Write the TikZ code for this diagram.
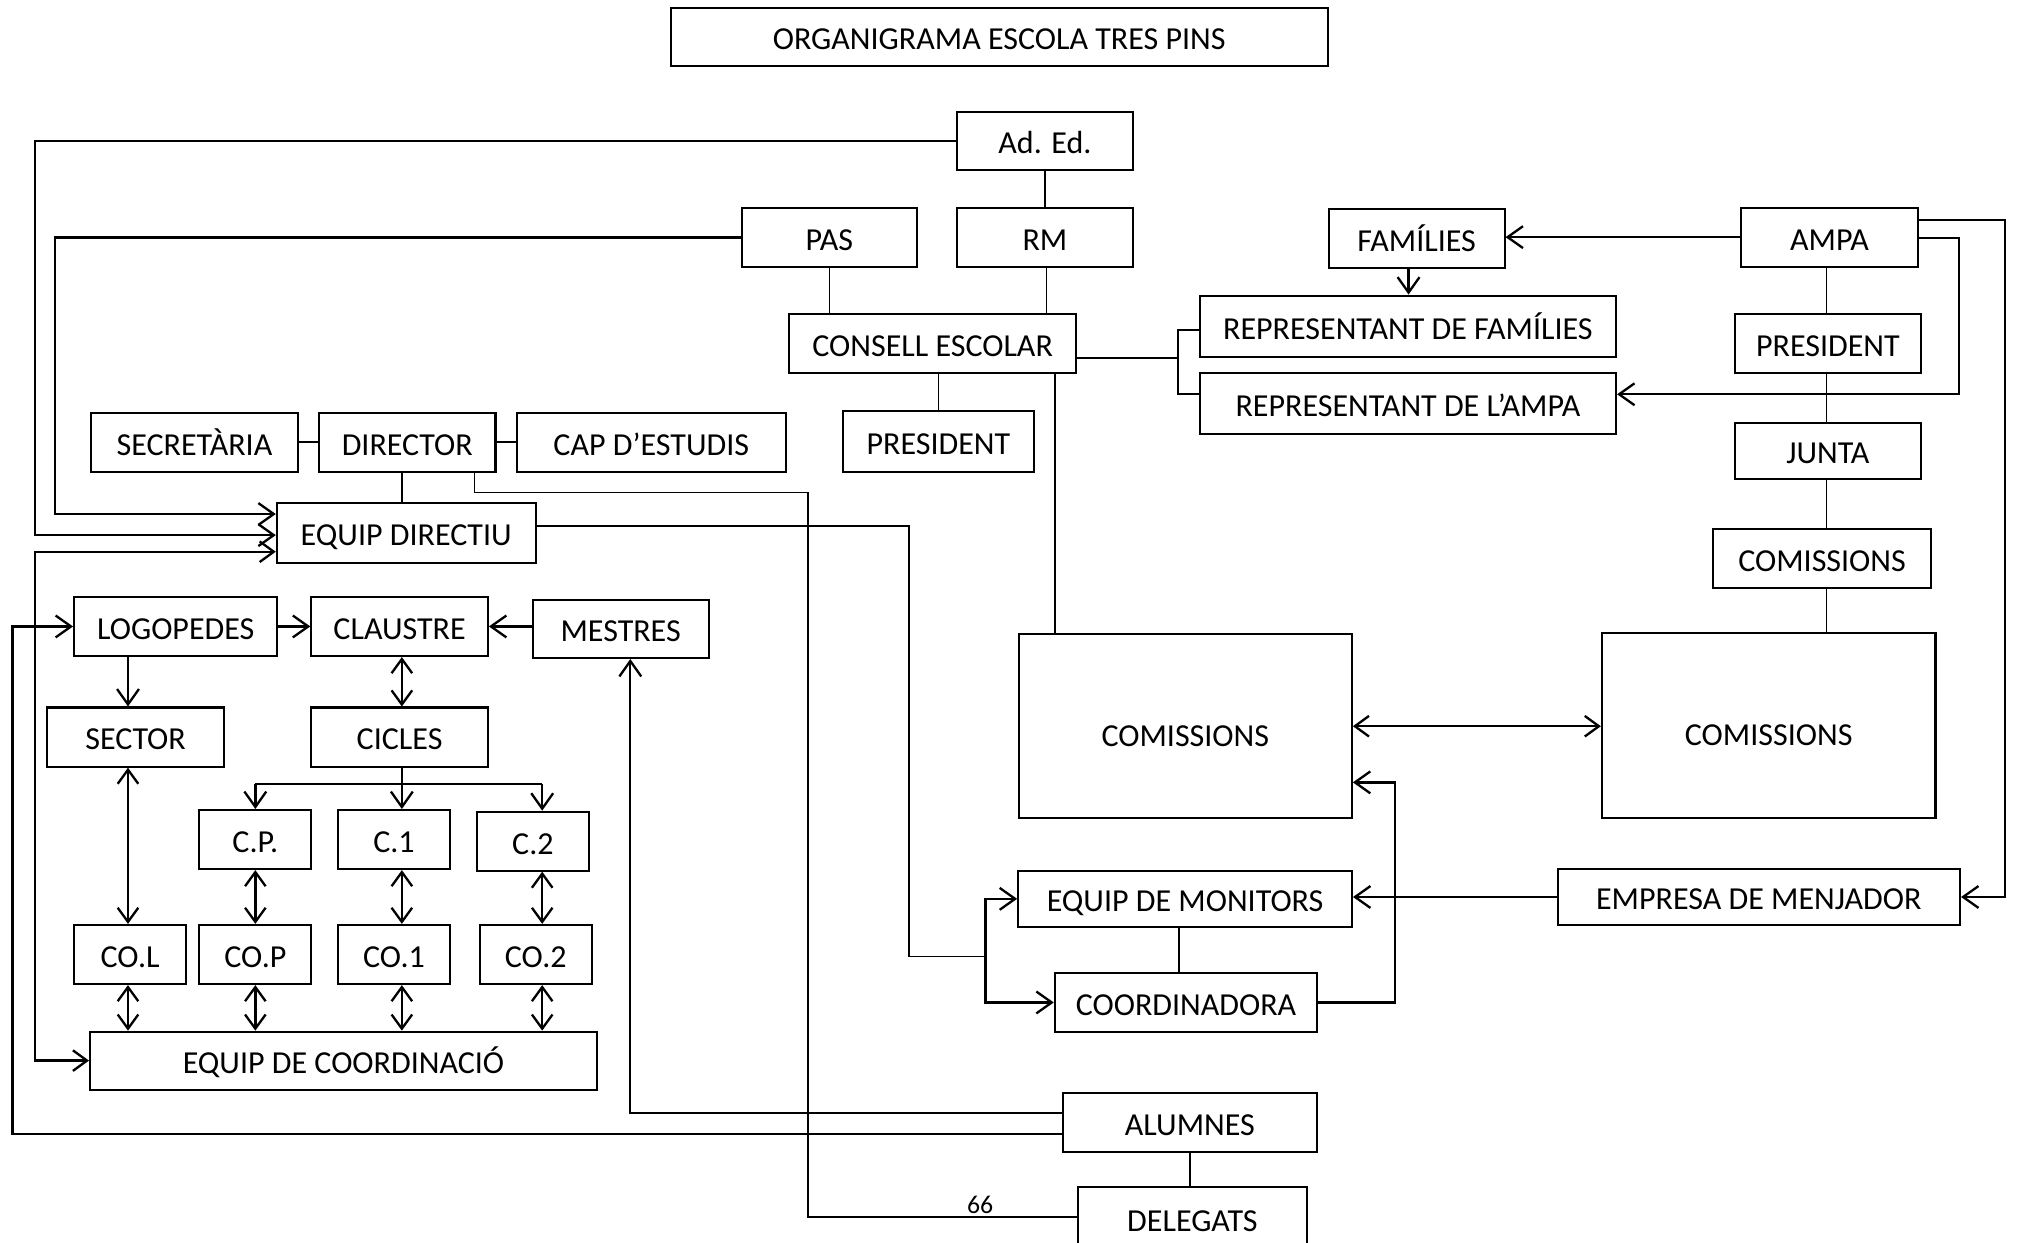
\documentclass[tikz,border=0pt]{standalone}
\usepackage{fontspec}
\setmainfont{Carlito}
\usetikzlibrary{arrows.meta}
\tikzset{
  box/.style={draw, line width=1.6pt, fill=white, inner sep=0pt, align=center, text height=20pt, text depth=0pt, font=\fontsize{24.9}{30}\selectfont},
  bigtext/.style={text height=31pt},
  ln/.style={line width=1.2pt},
  arr/.style={line width=1.8pt, -{Straight Barb[length=12pt,width=17pt]}},
  dar/.style={line width=1.8pt, {Straight Barb[length=11pt,width=16pt]}-{Straight Barb[length=11pt,width=16pt]}},
}
\newcommand\mybox[7][]{\node[box, #1, minimum width={(#5-#3)*1pt}, minimum height={(#6-#4)*1pt}] (#2) at ({(#3+#5)/2},{(#4+#6)/2}) {#7};}
\begin{document}
\begin{tikzpicture}[x=1pt,y=-1pt]
\useasboundingbox (0,0) rectangle (1568,966);
\clip (0,0) rectangle (1568,966);
\fill[white] (0,0) rectangle (1568,966);
% boxes
\mybox{title}{521.6}{6}{1032}{51}{ORGANIGRAMA ESCOLA TRES PINS}
\mybox{ad}{744}{87}{880.7}{132}{Ad. Ed.}
\mybox{pas}{576.6}{161.8}{712.8}{207.3}{PAS}
\mybox{rm}{744}{161.4}{880.7}{207.3}{RM}
\mybox{consell}{613.3}{244}{836.8}{290}{CONSELL ESCOLAR}
\mybox{presC}{655}{319.2}{804}{366.7}{PRESIDENT}
\mybox{sec}{70.4}{320.8}{232}{366.7}{SECRETÀRIA}
\mybox{dir}{248}{320.8}{385.2}{366.7}{DIRECTOR}
\mybox{cap}{401.6}{320.8}{611}{366.7}{CAP D’ESTUDIS}
\mybox{eqdir}{215.2}{391}{416.4}{437.4}{EQUIP DIRECTIU}
\mybox{fam}{1033}{162.6}{1169.6}{208.4}{FAMÍLIES}
\mybox{ampa}{1353.4}{161.4}{1491}{207.3}{AMPA}
\mybox{repfam}{932.7}{229.8}{1256.3}{277.3}{REPRESENTANT DE FAMÍLIES}
\mybox{repampa}{932.7}{289.7}{1256.3}{337.6}{REPRESENTANT DE L’AMPA}
\mybox{presA}{1348.7}{244.4}{1493.3}{290.2}{PRESIDENT}
\mybox{junta}{1348.7}{328.6}{1493.3}{372.4}{JUNTA}
\mybox{comS}{1332}{411.2}{1500.9}{456.9}{COMISSIONS}
\mybox[bigtext]{comL}{792}{492.9}{1050.9}{636.2}{COMISSIONS}
\mybox[bigtext]{comR}{1245.3}{492.4}{1504.6}{635.6}{COMISSIONS}
\mybox{monitors}{791.5}{677}{1051}{720.5}{EQUIP DE MONITORS}
\mybox{coordin}{820}{756.6}{1024}{802}{COORDINADORA}
\mybox{empresa}{1210.8}{675.6}{1523.7}{719}{EMPRESA DE MENJADOR}
\mybox{alumnes}{826}{849.5}{1024}{895.5}{ALUMNES}
\mybox{delegats}{838}{922.7}{1016}{972.5}{DELEGATS}
\mybox{logo}{57.6}{464}{215.6}{510}{LOGOPEDES}
\mybox{claustre}{242}{464}{379.3}{510}{CLAUSTRE}
\mybox{mestres}{414}{466.4}{551}{511.5}{MESTRES}
\mybox{sector}{36.8}{550}{174}{596}{SECTOR}
\mybox{cicles}{242}{550}{379.3}{596}{CICLES}
\mybox{cp}{155}{629.7}{242}{675.6}{C.P.}
\mybox{c1}{262.7}{629.7}{349.8}{675.6}{C.1}
\mybox{c2}{370.6}{631}{458}{676.8}{C.2}
\mybox{col}{57.6}{719}{144.7}{765}{CO.L}
\mybox{cop}{155}{719}{242}{765}{CO.P}
\mybox{co1}{262.7}{719}{349.8}{765}{CO.1}
\mybox{co2}{373}{719}{460}{765}{CO.2}
\mybox{eqco}{70}{802}{464}{847}{EQUIP DE COORDINACIÓ}
\node[font=\fontsize{20}{24}\selectfont, inner sep=0pt] (n66) at (762,936.5) {66};
% coordinates
\coordinate (adL) at (27,416);
\coordinate (pasL) at (43,399.6);
\coordinate (c1L) at (27,428.9);
\coordinate (alA) at (490,865);
\coordinate (alB) at (9.7,881.5);
\coordinate (dA) at (368.9,383);
\coordinate (dB) at (628,946);
\coordinate (eA) at (706.5,409);
\coordinate (eB) at (706.5,743.7);
\coordinate (eC) at (766,743.7);
\coordinate (kA) at (1084.5,608.2);
\coordinate (aA) at (1558.7,171);
\coordinate (aB) at (1523,185);
\coordinate (aC) at (1523,306.5);
\coordinate (fA) at (1095,0);
\coordinate (bA) at (915.8,278.3);
\coordinate (bB) at (915.8,256.5);
\coordinate (bC) at (915.8,306.5);
\coordinate (kB) at (820,0);
\coordinate (vA) at (1420,0);
\coordinate (mA) at (916.5,0);
\coordinate (pA) at (729.4,0);
\coordinate (dC) at (312.3,0);
\coordinate (sX) at (99.5,0);
\coordinate (xP) at (198.5,0);
\coordinate (x1) at (312.4,0);
\coordinate (x2) at (421.5,0);
\coordinate (hA) at (312.4,609.5);
\coordinate (rA) at (813.7,0);
% connectors top
\draw[arr] (ad.west) -| (adL) -- (adL -| eqdir.west);
\draw[arr] (pas.west) -| (pasL) -- (pasL -| eqdir.west);
\draw[dar] (c1L -| eqdir.west) -- (c1L) |- (eqco.west);
\draw[ln] (ad.south) -- (rm.north);
\draw[ln] (rA |- rm.south) -- (rA |- consell.north);
\draw[ln] (pas.south) -- (pas.south |- consell.north);
\draw[ln] (pA |- consell.south) -- (pA |- presC.north);
\draw[ln] (sec.east) -- (dir.west);
\draw[ln] (dir.east) -- (cap.west);
\draw[ln] (dC |- dir.south) -- (dC |- eqdir.north);
\draw[ln] (dA |- dir.south) -- (dA) -| (dB) -- (dB -| delegats.west);
\draw[ln] (eqdir.east |- eA) -- (eA) -- (eB) -- (eC);
\draw[arr] (eC) |- (monitors.west);
\draw[arr] (eC) |- (coordin.west);
\draw[ln] (mA |- monitors.south) -- (mA |- coordin.north);
\draw[arr] (coordin.east) -| (kA) -- (kA -| comL.east);
\draw[dar] (comL.east) -- (comL.east -| comR.west);
\draw[arr] (empresa.west) -- (empresa.west -| monitors.east);
\draw[ln] (kB |- consell.south) -- (kB |- comL.north);
\draw[ln] (consell.east |- bA) -- (bA);
\draw[ln] (bB -| repfam.west) -- (bB) -- (bC) -- (bC -| repampa.west);
\draw[arr] (fA |- fam.south) -- (fA |- repfam.north);
\draw[arr] (ampa.west) -- (ampa.west -| fam.east);
\draw[arr] (ampa.east |- aA) -- (aA) |- (empresa.east);
\draw[arr] (ampa.east |- aB) -- (aB) -- (aC) -- (aC -| repampa.east);
\draw[ln] (vA |- ampa.south) -- (vA |- presA.north);
\draw[ln] (vA |- presA.south) -- (vA |- junta.north);
\draw[ln] (vA |- junta.south) -- (vA |- comS.north);
\draw[ln] (vA |- comS.south) -- (vA |- comR.north);
\draw[ln] (alumnes.south) -- (alumnes.south |- delegats.north);
\draw[arr] (alumnes.west |- alA) -- (alA) -- (alA |- mestres.south);
\draw[arr] (alumnes.west |- alB) -- (alB) |- (logo.west);
% left cluster
\draw[arr] (logo.east) -- (claustre.west);
\draw[arr] (mestres.west |- claustre.east) -- (claustre.east);
\draw[arr] (sX |- logo.south) -- (sX |- sector.north);
\draw[dar] (sX |- sector.south) -- (sX |- col.north);
\draw[dar] (x1 |- claustre.south) -- (x1 |- cicles.north);
\draw[ln] (x1 |- cicles.south) -- (hA);
\draw[ln] (xP |- hA) -- (x2 |- hA);
\draw[arr] (xP |- hA) -- (xP |- cp.north);
\draw[arr] (x1 |- hA) -- (x1 |- c1.north);
\draw[arr] (x2 |- hA) -- (x2 |- c2.north);
\draw[dar] (xP |- cp.south) -- (xP |- cop.north);
\draw[dar] (x1 |- c1.south) -- (x1 |- co1.north);
\draw[dar] (x2 |- c2.south) -- (x2 |- co2.north);
\draw[dar] (sX |- col.south) -- (sX |- eqco.north);
\draw[dar] (xP |- cop.south) -- (xP |- eqco.north);
\draw[dar] (x1 |- co1.south) -- (x1 |- eqco.north);
\draw[dar] (x2 |- co2.south) -- (x2 |- eqco.north);
\end{tikzpicture}
\end{document}
